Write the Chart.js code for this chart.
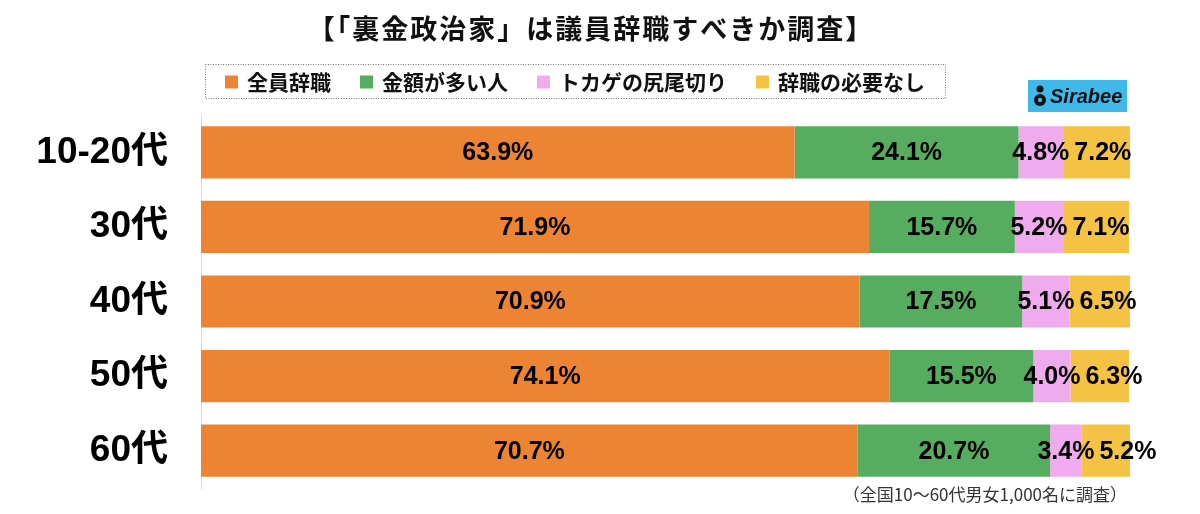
<!DOCTYPE html>
<html><head><meta charset="utf-8">
<script src="https://cdn.jsdelivr.net/npm/chart.js@4/dist/chart.umd.min.js"></script>
<style>html,body{margin:0;padding:0;background:#fff}#wrap{width:1200px;height:514px;position:relative}</style>
</head><body><div id="wrap"><canvas id="c" width="1200" height="514"></canvas></div>
<script>
const titleText = '【「裏金政治家」は議員辞職すべきか調査】';
const footnote = '（全国10〜60代男女1,000名に調査）';
const categories = ['10-20代','30代','40代','50代','60代'];
const seriesNames = ['全員辞職','金額が多い人','トカゲの尻尾切り','辞職の必要なし'];
const zenin = [63.9,71.9,70.9,74.1,70.7];
const kingaku = [24.1,15.7,17.5,15.5,20.7];
const tokage = [4.8,5.2,5.1,4.0,3.4];
const fuyou = [7.2,7.1,6.5,6.3,5.2];
const colors = ['#EC8434','#57AD5F','#F0AAEE','#F5C344'];

const CJK = '"Noto Sans CJK JP","Noto Sans",sans-serif';
const NUM = '"Liberation Sans",Arial,"Noto Sans CJK JP",sans-serif';

const extras = {
  id:'extras',
  afterDatasetsDraw(chart){
    const ctx = chart.ctx;
    ctx.save();
    ctx.font = 'bold 25px ' + NUM;
    ctx.fillStyle = '#000';
    ctx.textAlign = 'center'; ctx.textBaseline = 'middle';
    const n = chart.data.labels.length;
    for(let i=0;i<n;i++){
      let prevRight = -1e9;
      chart.data.datasets.forEach((ds,di)=>{
        const el = chart.getDatasetMeta(di).data[i];
        const txt = ds.data[i].toFixed(1)+'%';
        const w = ctx.measureText(txt).width;
        let cx = (el.x + el.base)/2;
        if(cx - w/2 < prevRight + 5) cx = prevRight + 5 + w/2;
        ctx.fillText(txt, cx, el.y+1);
        prevRight = cx + w/2;
      });
    }
    ctx.restore();
  },
  afterDraw(chart){
    const ctx = chart.ctx;
    ctx.save();
    // title
    ctx.fillStyle='#111';
    ctx.font = 'bold 27px '+CJK;
    ctx.letterSpacing = '2px';
    ctx.textAlign='center'; ctx.textBaseline='middle';
    ctx.fillText(titleText, 591, 29);
    ctx.letterSpacing = '0px';
    // legend box
    const bx=205, by=64, bw=740, bh=34;
    ctx.strokeStyle='#777'; ctx.lineWidth=1; ctx.setLineDash([1,1.5]);
    ctx.strokeRect(bx+0.5,by+0.5,bw,bh);
    ctx.setLineDash([]);
    ctx.font='bold 21px '+CJK;
    ctx.textAlign='left';
    const sq=13, gapT=9, gapI=29;
    const widths = chart.data.datasets.map(d=>ctx.measureText(d.label).width);
    let total = widths.reduce((a,b)=>a+b,0) + chart.data.datasets.length*(sq+gapT) + (chart.data.datasets.length-1)*gapI;
    let x = bx + (bw-total)/2;
    const cy = by+bh/2+1;
    chart.data.datasets.forEach((d,i)=>{
      ctx.fillStyle=d.backgroundColor;
      ctx.fillRect(x, cy-sq/2, sq, sq);
      x += sq+gapT;
      ctx.fillStyle='#111';
      ctx.fillText(d.label, x, cy);
      x += widths[i]+gapI;
    });
    // logo
    ctx.fillStyle='#3FB8EA';
    ctx.fillRect(1028,80,99,32);
    ctx.fillStyle='#111';
    ctx.beginPath(); ctx.arc(1040,100,6,0,Math.PI*2); ctx.fill();
    ctx.beginPath(); ctx.arc(1040,89,3.5,0,Math.PI*2); ctx.fill();
    ctx.fillStyle='#3FB8EA';
    ctx.beginPath(); ctx.arc(1040,100,2.2,0,Math.PI*2); ctx.fill();
    ctx.fillStyle='#111';
    ctx.font='italic bold 20px '+NUM;
    ctx.fillText('Sirabee', 1050, 97);
    // footnote
    ctx.font='17px '+CJK;
    ctx.fillStyle='#333';
    ctx.textAlign='right';
    ctx.fillText(footnote, 1127, 495);
    ctx.restore();
  }
};

new Chart(document.getElementById('c'),{
  type:'bar',
  data:{
    labels:categories,
    datasets:[
      {label:seriesNames[0],data:zenin,backgroundColor:colors[0]},
      {label:seriesNames[1],data:kingaku,backgroundColor:colors[1]},
      {label:seriesNames[2],data:tokage,backgroundColor:colors[2]},
      {label:seriesNames[3],data:fuyou,backgroundColor:colors[3]}
    ]
  },
  options:{
    indexAxis:'y',
    responsive:false,
    animation:false,
    events:[],
    layout:{padding:{top:115,bottom:26,right:70,left:0}},
    datasets:{bar:{categoryPercentage:1,barPercentage:0.7,borderWidth:0}},
    plugins:{legend:{display:false},tooltip:{enabled:false},title:{display:false}},
    scales:{
      x:{stacked:true,min:0,max:100,display:false},
      y:{stacked:true,
        grid:{display:false,drawTicks:false},
        border:{display:true,color:'#d9d9d9',width:1},
        ticks:{color:'#000',font:{family:NUM,size:37,weight:'bold'},padding:33},
        afterFit(s){s.width=201; s.paddingTop=0; s.paddingBottom=0;}
      }
    }
  },
  plugins:[extras]
});
</script></body></html>
